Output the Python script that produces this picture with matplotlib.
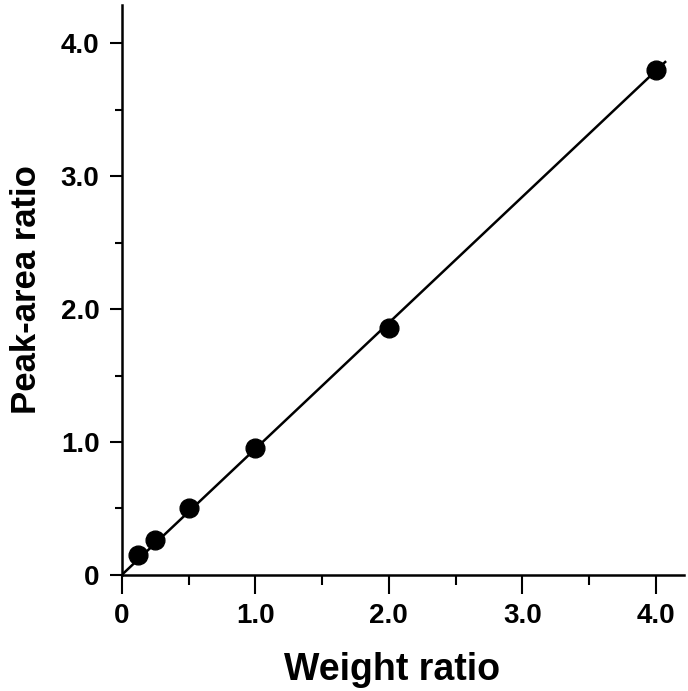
import matplotlib
matplotlib.use('Agg')
import matplotlib.pyplot as plt
from matplotlib.ticker import MultipleLocator, FixedFormatter, FixedLocator

# data
weight_ratio = [0.125, 0.25, 0.5, 1.0, 2.0, 4.0]
peak_area_ratio = [0.15, 0.26, 0.50, 0.955, 1.86, 3.80]
fit_x = [0.0, 4.07]
fit_y = [0.0, 3.86]

ticks = [0, 1, 2, 3, 4]
tick_labels = ['0', '1.0', '2.0', '3.0', '4.0']

plt.rcParams['font.family'] = ['Liberation Sans', 'DejaVu Sans']
plt.rcParams['font.weight'] = 'bold'

fig = plt.figure(figsize=(6.88, 6.91), dpi=100)
ax = fig.add_axes([0.177, 0.168, 0.817, 0.825])

ax.plot(fit_x, fit_y, color='black', lw=1.8, zorder=2)
ax.plot(weight_ratio, peak_area_ratio, 'o', color='black', ms=13.5, zorder=3)

ax.set_xlim(0, 4.21)
ax.set_ylim(0, 4.29)
ax.spines['top'].set_visible(False)
ax.spines['right'].set_visible(False)
for s in ['left', 'bottom']:
    ax.spines[s].set_linewidth(1.8)

ax.xaxis.set_major_locator(FixedLocator(ticks))
ax.yaxis.set_major_locator(FixedLocator(ticks))
ax.xaxis.set_major_formatter(FixedFormatter(tick_labels))
ax.yaxis.set_major_formatter(FixedFormatter(tick_labels))
ax.xaxis.set_minor_locator(MultipleLocator(0.5))
ax.yaxis.set_minor_locator(MultipleLocator(0.5))
ax.tick_params(which='both', direction='out', width=1.5, labelsize=20)
ax.tick_params(axis='x', which='major', length=14, pad=6)
ax.tick_params(axis='x', which='minor', length=7)
ax.tick_params(axis='y', which='major', length=9, pad=7)
ax.tick_params(axis='y', which='minor', length=5)
for lab in ax.get_xticklabels() + ax.get_yticklabels():
    lab.set_fontweight('bold')

ax.set_xlabel('Weight ratio', fontsize=27, fontweight='bold', labelpad=17)
ax.xaxis.label.set_x(0.48)
ax.set_ylabel('Peak-area ratio', fontsize=25, fontweight='bold', labelpad=13)

fig.savefig('out.png', dpi=100)
